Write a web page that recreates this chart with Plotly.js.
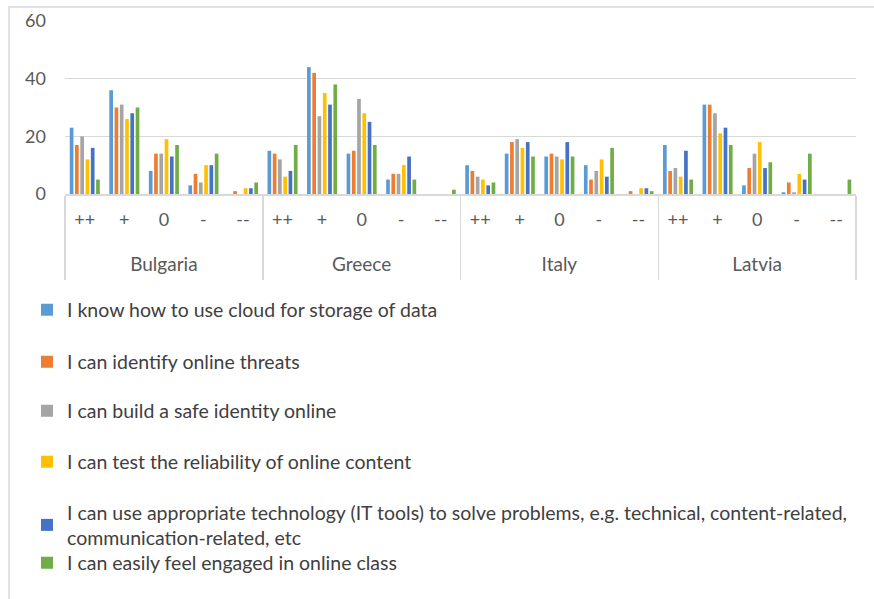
<!DOCTYPE html>
<html>
<head>
<meta charset="utf-8">
<script src="https://cdn.plot.ly/plotly-3.0.1.min.js"></script>
<style>html,body{margin:0;padding:0;background:#fff;}#chart{width:874px;height:599px;}</style>
</head>
<body>
<div id="chart"></div>
<script>
// Data
const countries = ['Bulgaria', 'Greece', 'Italy', 'Latvia'];
const levels = ['++', '+', '0', '-', '--'];
const seriesNames = [
  'I know how to use cloud for storage of data',
  'I can identify online threats',
  'I can build a safe identity online',
  'I can test the reliability of online content',
  'I can use appropriate technology (IT tools) to solve problems, e.g. technical, content-related,<br>communication-related, etc',
  'I can easily feel engaged in online class'
];
// values per series: Bulgaria(++,+,0,-,--), Greece(...), Italy(...), Latvia(...)
const cloudStorage   = [23, 36, 8, 3, 0,   15, 44, 14, 5, 0,   10, 14, 13, 10, 0,   17, 31, 3, 0.6, 0];
const onlineThreats  = [17, 30, 14, 7, 1,  14, 42, 15, 7, 0,   8, 18, 14, 5, 1,     8, 31, 9, 4, 0];
const safeIdentity   = [20, 31, 14, 4, 0,  12, 27, 33, 7, 0,   6, 19, 13, 8, 0,     9, 28, 14, 0.6, 0];
const reliability    = [12, 26, 19, 10, 2, 6, 35, 28, 10, 0,   5, 16, 12, 12, 2,    6, 21, 18, 7, 0];
const itTools        = [16, 28, 13, 10, 2, 8, 31, 25, 13, 0,   3, 18, 18, 6, 2,     15, 23, 9, 5, 0];
const engaged        = [5, 30, 17, 14, 4,  17, 38, 17, 5, 1.5, 4, 13, 13, 16, 1,    5, 17, 11, 14, 5];
const colors = ['#5B9BD5', '#ED7D31', '#A5A5A5', '#FFC000', '#4472C4', '#70AD47'];
const allValues = [cloudStorage, onlineThreats, safeIdentity, reliability, itTools, engaged];

const xCountry = [], xLevel = [];
countries.forEach(c => levels.forEach(l => { xCountry.push(c); xLevel.push(l); }));
const nCat = xLevel.length;
const levelPos = xLevel.map((_, i) => i);
const countryPos = countries.map((_, i) => i * levels.length + (levels.length - 1) / 2);
const dividerPos = countries.map((_, i) => i * levels.length - 0.5).concat([nCat - 0.5]);

const legendY = [0.4825, 0.3957, 0.3139, 0.2287, 0.1235, 0.0601];
const legendKeys = ['legend', 'legend2', 'legend3', 'legend4', 'legend5', 'legend6'];

const traces = allValues.map((vals, i) => ({
  type: 'bar',
  name: seriesNames[i],
  x: [xCountry, xLevel],
  y: vals,
  marker: {color: colors[i]},
  legend: legendKeys[i],
  hoverinfo: 'y'
}));
// empty helper traces so the two label axes are drawn
['x2', 'x3'].forEach(ax => traces.push({
  type: 'scatter', mode: 'markers', x: [], y: [], xaxis: ax, yaxis: 'y',
  showlegend: false, hoverinfo: 'skip'
}));

const fam = 'Lato, Open Sans, sans-serif';
const grey = '#d9d9d9';
const layout = {
  width: 874, height: 599,
  margin: {l: 65, r: 18, t: 21, b: 405, autoexpand: false},
  paper_bgcolor: '#fff', plot_bgcolor: '#fff',
  font: {family: fam, color: '#404040', size: 18},
  barmode: 'group',
  bargap: 0.2,
  bargroupgap: 0.3,
  showlegend: true,
  xaxis: {
    type: 'multicategory',
    showline: false,
    showdividers: false, showticklabels: false,
    ticks: '', showgrid: false
  },
  xaxis2: {
    overlaying: 'x', anchor: 'y', side: 'bottom', type: 'linear',
    range: [-0.5, nCat - 0.5], showgrid: false, zeroline: false, showline: false,
    tickmode: 'array', tickvals: levelPos, ticktext: xLevel, ticks: '',
    tickfont: {family: fam, size: 18, color: '#595959'},
    ticklabelstandoff: 13
  },
  xaxis3: {
    overlaying: 'x', anchor: 'y', side: 'bottom', type: 'linear',
    range: [-0.5, nCat - 0.5], showgrid: false, zeroline: false,
    showline: true, linecolor: grey, linewidth: 1.5,
    tickmode: 'array', tickvals: countryPos, ticktext: countries, ticks: '',
    tickfont: {family: fam, size: 19, color: '#595959'},
    ticklabelstandoff: 53,
    minor: {tickmode: 'array', tickvals: dividerPos, ticks: 'outside', ticklen: 84,
            tickcolor: grey, tickwidth: 1.5, showgrid: false}
  },
  yaxis: {
    range: [0, 60], tickvals: [0, 20, 40, 60],
    showgrid: true, gridcolor: grey, gridwidth: 1.5,
    zeroline: false, showline: false,
    tickfont: {family: fam, size: 18, color: '#595959'},
    ticklabelstandoff: 18
  },
  shapes: [{
    type: 'rect', xref: 'paper', yref: 'paper',
    x0: (9 - 65) / 791, x1: (880 - 65) / 791, y0: -2.5, y1: (194 - 7) / 173,
    line: {color: grey, width: 1.5}, fillcolor: 'rgba(0,0,0,0)'
  }]
};
legendKeys.forEach((k, i) => {
  layout[k] = {
    xref: 'container', yref: 'container',
    x: 27 / 874, y: legendY[i], xanchor: 'left', yanchor: 'middle',
    bgcolor: 'rgba(0,0,0,0)', font: {family: fam, size: 19.5, color: '#404040'},
    itemwidth: 30
  };
});

Plotly.newPlot('chart', traces, layout, {displayModeBar: false, staticPlot: true});
</script>
</body>
</html>
